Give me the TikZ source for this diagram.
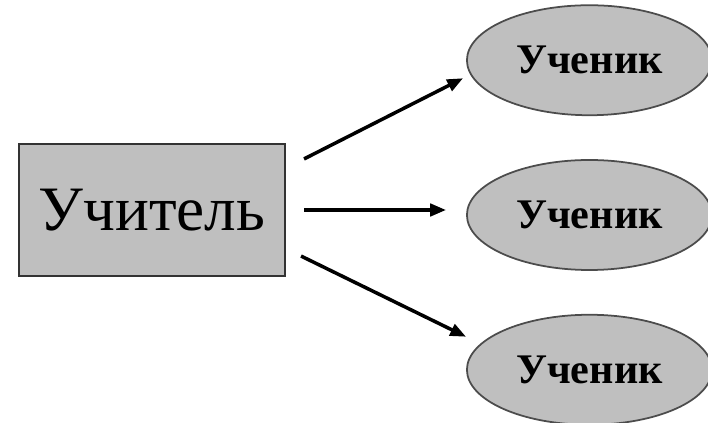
\documentclass[tikz,border=0pt]{standalone}
\usepackage{fontspec}
\setmainfont{Liberation Serif}
\usetikzlibrary{shapes,arrows.meta,positioning}

\begin{document}
\begin{tikzpicture}[
    node distance=0.86cm,
    teacher/.style={rectangle, draw=black!80, line width=1.2pt, fill=black!25, minimum width=5.32cm, minimum height=2.64cm, font=\fontsize{36}{40}\selectfont},
    pupil/.style={ellipse, draw=black!70, line width=1pt, fill=black!25, minimum width=4.9cm, minimum height=2.2cm, inner sep=0pt, font=\bfseries\fontsize{24}{28}\selectfont},
    arrow/.style={-{Triangle[length=9pt,width=7pt]}, line width=2pt}
]
    \useasboundingbox (-3.04,-4.26) rectangle (11.12,4.2);

    % Учитель
    \node[teacher] (teacher) {Учитель};

    % Ученики
    \node[pupil, right=3.6cm of teacher, yshift=-0.1cm] (pupil2) {Ученик};
    \node[pupil, above=of pupil2] (pupil1) {Ученик};
    \node[pupil, below=of pupil2] (pupil3) {Ученик};

    % Стрелки
    \draw[arrow] ([xshift=0.36cm,yshift=-0.32cm]teacher.north east) -- ([xshift=-0.06cm,yshift=-0.36cm]pupil1.west);
    \draw[arrow, shorten <=0.36cm, shorten >=0.4cm] (teacher.east) -- (teacher.east -| pupil2.west);
    \draw[arrow] ([xshift=0.3cm,yshift=0.42cm]teacher.south east) -- ([yshift=0.66cm]pupil3.west);
\end{tikzpicture}
\end{document}
